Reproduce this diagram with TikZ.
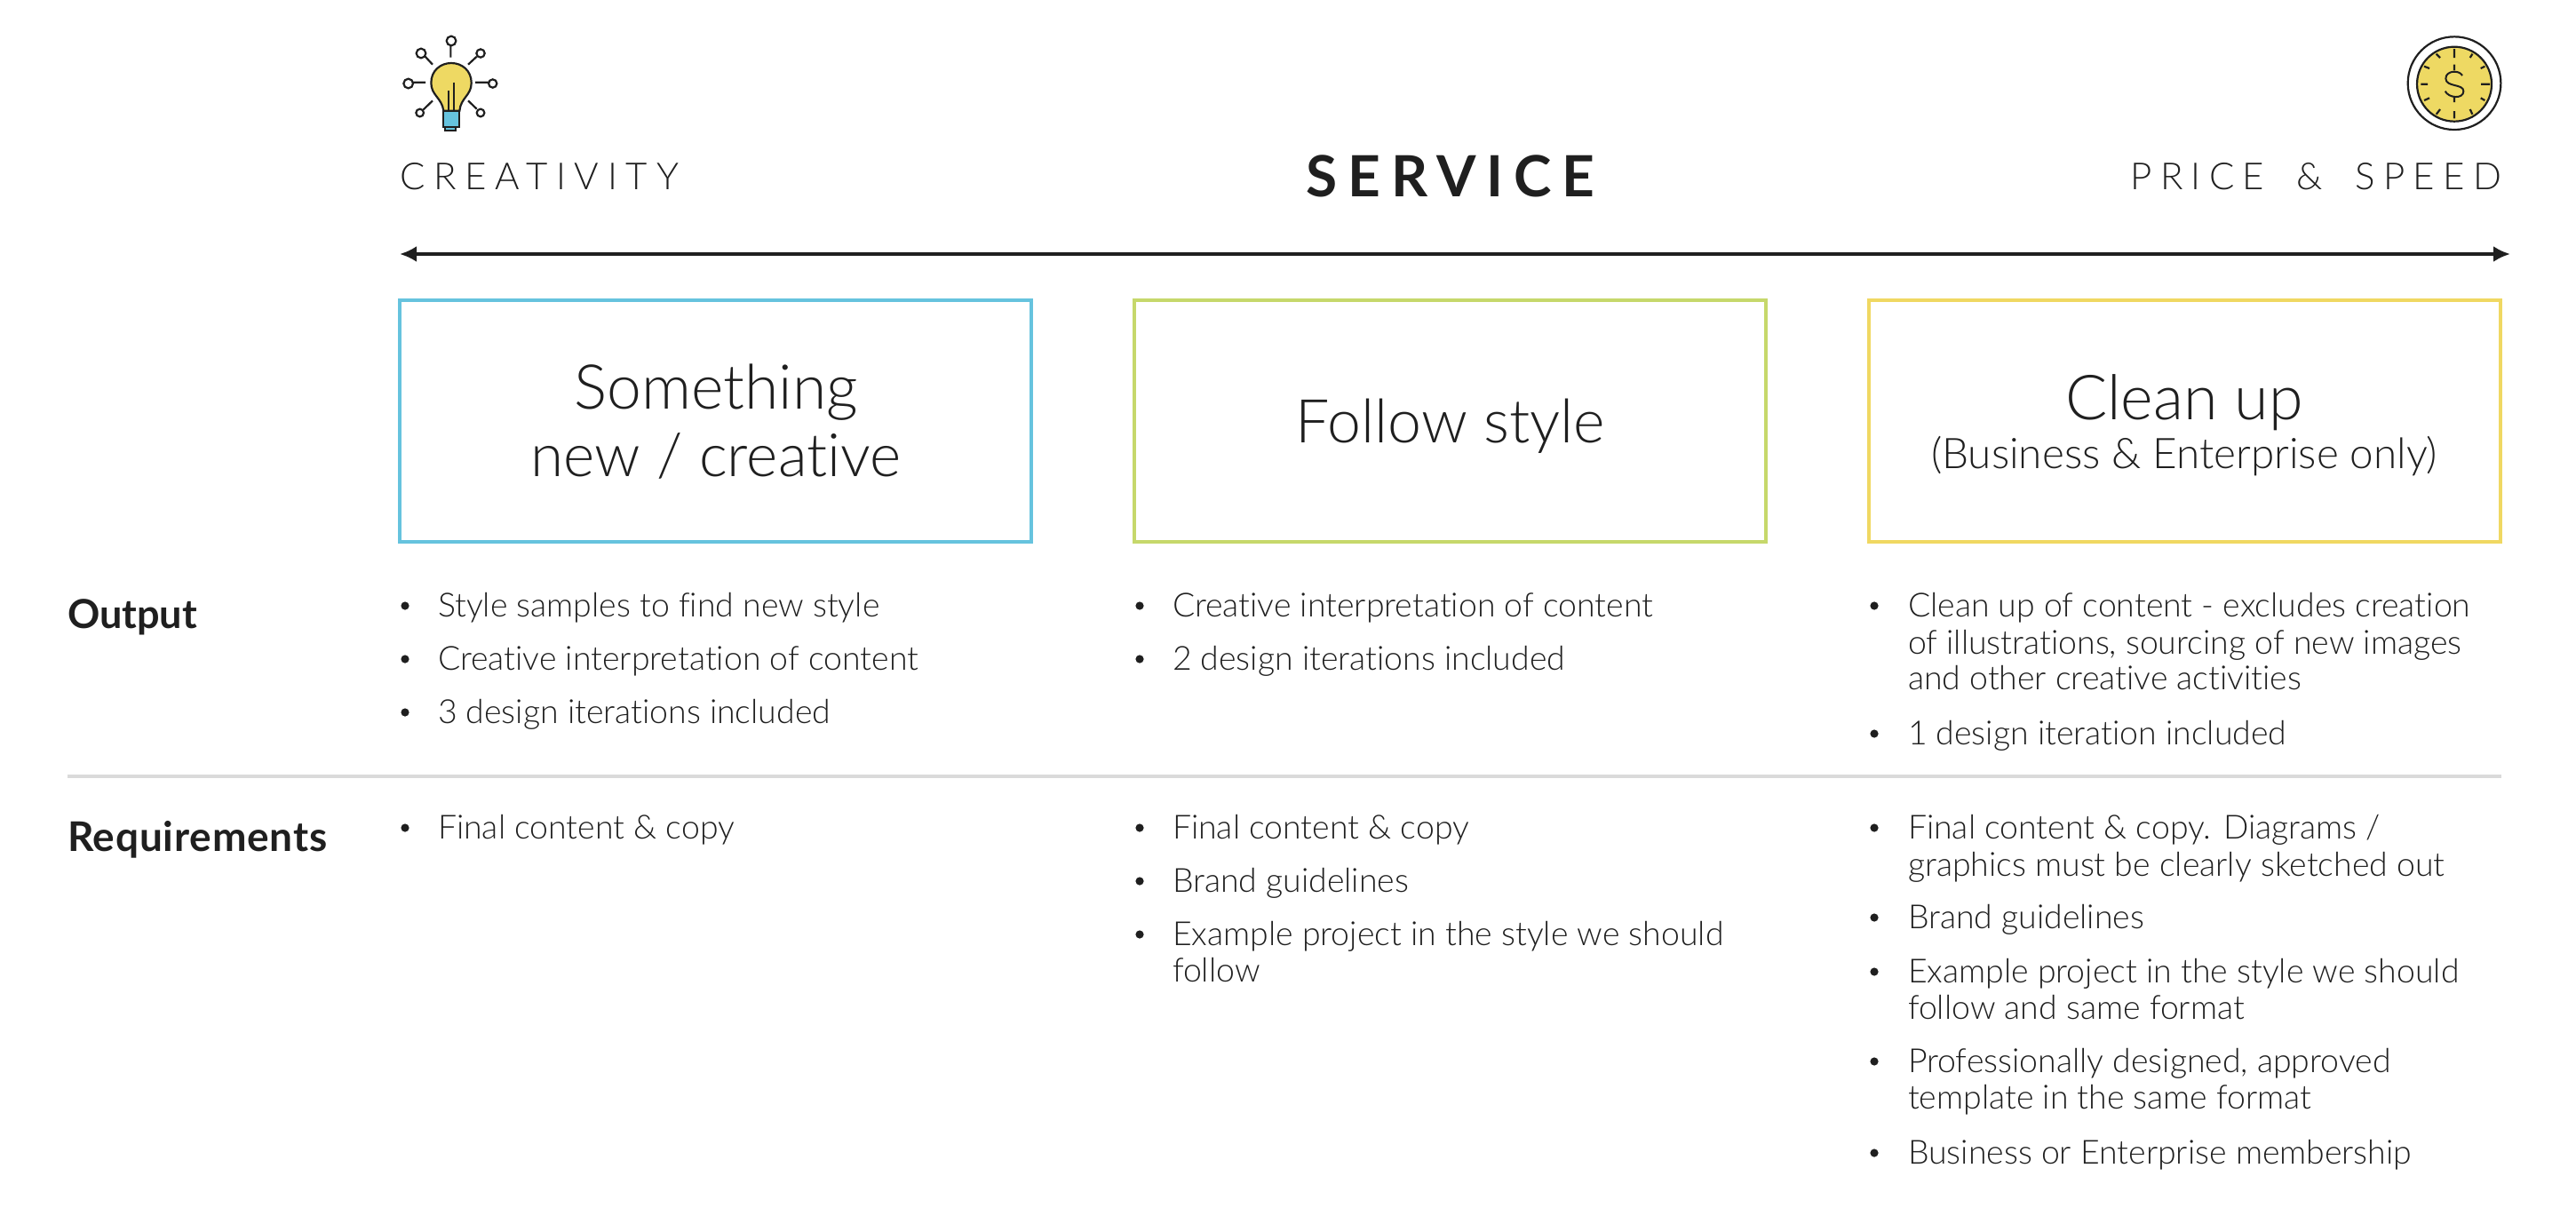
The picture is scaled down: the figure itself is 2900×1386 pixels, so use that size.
\documentclass[tikz,border=0pt]{standalone}
\usepackage{fontspec}
\usetikzlibrary{arrows.meta}
\setmainfont[Ligatures={NoCommon}]{Lato Light}
\newfontfamily\boldf{Lato}
\definecolor{ink}{HTML}{1F1F1F}
\definecolor{ruleg}{HTML}{DADADA}
\definecolor{cblue}{HTML}{66C3DE}
\definecolor{cgreen}{HTML}{C6D86B}
\definecolor{cyel}{HTML}{F0D862}
\definecolor{bulbc}{HTML}{EED963}
\newcommand{\fs}[1]{\fontsize{#1}{#1}\selectfont}
\tikzset{
 x=0.5pt,y=-0.5pt,
 txt/.style={anchor=base west,inner sep=0,outer sep=0,text=ink,font=\fs{18.7}},
 dot/.style={circle,fill=ink,inner sep=0,minimum size=4.6pt},
 head/.style={anchor=base west,inner sep=0,outer sep=0,text=ink},
 top/.style={inner sep=0,outer sep=0,text=ink,font=\fs{21}},
 big/.style={inner sep=0,outer sep=0,text=ink,anchor=base},
 boxa/.style={draw,line width=2pt,inner sep=0,outer sep=0,minimum width=355.5pt,minimum height=136pt,anchor=north west},
 ic/.style={draw=ink,line width=1.1pt},
}
\begin{document}
\begin{tikzpicture}
\useasboundingbox (0,0) rectangle (2900,1386);
\node[top,anchor=base west] (creat) at (450,213) {\addfontfeatures{LetterSpace=23.3}CREATIVITY};
\node[top,anchor=base east] (price) at (2816,213) {\addfontfeatures{LetterSpace=22}PRICE\hspace{8pt} \&\hspace{8pt} SPEED};
\node[anchor=base,inner sep=0,text=ink,font=\boldf\bfseries\fs{32}] (service) at (1633,221) {\addfontfeatures{LetterSpace=18.5}SERVICE};
\coordinate (al) at (450,286); \coordinate (ar) at (2826,286);
\draw[ink,line width=2pt,{Latex[length=9.5pt,width=9pt]}-{Latex[length=9.5pt,width=9pt]}] (al) -- (ar);
\node[boxa,draw=cblue] (b1) at (450,338) {};
\node[boxa,draw=cgreen] (b2) at (1277,338) {};
\node[boxa,draw=cyel] (b3) at (2104,338) {};
\node[big,font=\fs{34.8}] (b1a) at (806,460) {Something};
\node[big,font=\fs{33.7}] (b1b) at (806,536) {new / creative};
\node[big,font=\fs{34}] (b2a) at (1633,498) {Follow style};
\node[big,font=\fs{35}] (b3a) at (2459,472) {Clean up};
\node[big,font=\fs{23.8}] (b3b) at (2459,527) {(Business \& Enterprise only)};
\node[head,font=\boldf\bfseries\fs{22.5}] (out) at (76,707) {Output};
\node[head,font=\boldf\bfseries\fs{23}] (req) at (76,958) {\addfontfeatures{LetterSpace=1.8}Requirements};
\coordinate (rl) at (76,874); \coordinate (rr) at (2816,874);
\draw[ruleg,line width=2pt] (rl) -- (rr);
% column 1
\foreach \n/\y/\t in {a/694/Style samples to find new style,b/754/Creative interpretation of content,c/814/3 design iterations included,d/944/Final content \& copy}{
 \node[dot] (d1\n) at (456,\y-12) {};
 \node[txt] (t1\n) at (493,\y) {\t};}
% column 2
\foreach \n/\y/\t in {a/694/Creative interpretation of content,b/754/2 design iterations included,c/944/Final content \& copy,d/1004/Brand guidelines,e/1064/Example project in the style we should}{
 \node[dot] (d2\n) at (1283,\y-12) {};
 \node[txt] (t2\n) at (1320,\y) {\t};}
\node[txt] (t2f) at (1320,1105) {follow};
% column 3
\foreach \n/\y/\t in {a/694/Clean up of content - excludes creation,b/838/1 design iteration included,d/1045/Brand guidelines,e/1106/Example project in the style we should,f/1207/Professionally designed{,} approved,g/1310/Business or Enterprise membership}{
 \node[dot] (d3\n) at (2110,\y-12) {};
 \node[txt] (t3\n) at (2148,\y) {\t};}
\node[dot] (d3c) at (2110,932) {};
\node[txt] (t3c) at (2148,944) {Final content \& copy. Diagrams /};
\node[txt] (t3a2) at (2148,736) {of illustrations, sourcing of new images};
\node[txt] (t3a3) at (2148,776) {and other creative activities};
\node[txt] (t3c2) at (2148,986) {graphics must be clearly sketched out};
\node[txt] (t3e2) at (2148,1147) {follow and same format};
\node[txt] (t3f2) at (2148,1248) {template in the same format};
% bulb icon
\begin{scope}[shift={(420,20)},x=0.1667pt,y=-0.1667pt]
 \draw[ic,fill=bulbc] (238,314) .. controls (232,270) and (196,262) .. (196,220) .. controls (196,178) and (228,153) .. (264,153) .. controls (300,153) and (332,178) .. (332,220) .. controls (332,262) and (296,270) .. (292,314) -- cycle;
 \draw[ic,fill=cblue] (238,316) rectangle (292,370);
 \draw[ic,fill=cblue] (243,370) rectangle (280,381);
 \draw[ic] (255,245) -- (255,314) (272,218) -- (272,314);
 \draw[ic] (262,96) -- (262,134) (176,131) -- (201,158) (350,131) -- (321,158) (135,218) -- (177,218) (345,218) -- (392,218) (170,310) -- (201,280) (350,308) -- (321,280);
 \draw[ic] (264,78) circle (16) (162,120) circle (16) (363,120) circle (14) (119,222) circle (16) (404,222) circle (14) (158,321) circle (13) (363,321) circle (13);
\end{scope}
% clock icon
\begin{scope}[shift={(2660,20)},x=0.1667pt,y=-0.1667pt]
 \draw[ic] (309,221) circle (157);
 \draw[ic,fill=bulbc] (309,224) circle (126);
 \draw[ic] (309,105) -- (309,135) (309,158) -- (309,178) (309,265) -- (309,285) (309,315) -- (309,340) (196,224) -- (219,224) (399,224) -- (429,224) (248,122) -- (261,135) (370,122) -- (362,135) (207,164) -- (225,171) (412,164) -- (398,171) (207,279) -- (225,271) (412,279) -- (398,271) (248,326) -- (261,309) (370,326) -- (362,309);
 \draw[ink,line width=1pt] (336,195) .. controls (325,175) and (280,178) .. (280,205) .. controls (280,235) and (340,222) .. (340,248) .. controls (340,275) and (290,272) .. (278,248);
\end{scope}
\end{tikzpicture}
\end{document}
